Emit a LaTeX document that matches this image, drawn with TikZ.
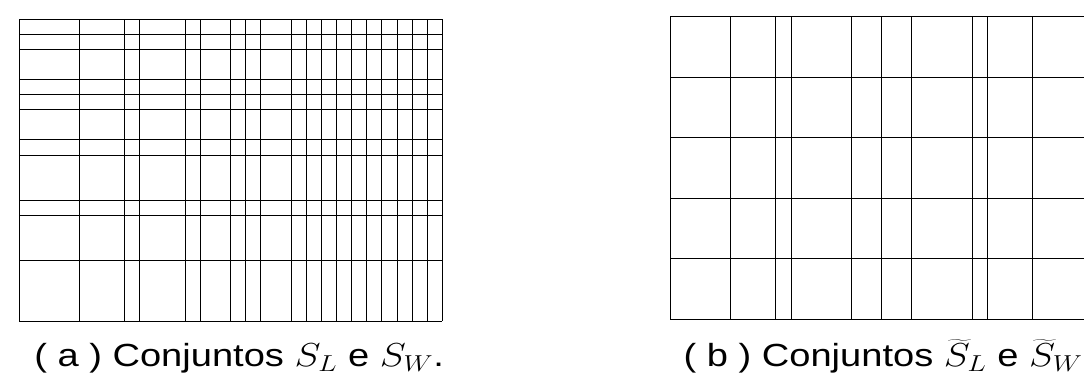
\documentclass[tikz,border=0pt]{standalone}
\usepackage{fontspec}
\setmainfont{Liberation Sans}
\begin{document}
\begin{tikzpicture}[x=0.75pt,y=-0.75pt,
  gridline/.style={line width=0.7pt,black},
  caption/.style={anchor=base west,inner sep=0pt,xscale=1.19,transform shape,font=\fontsize{24}{28}\selectfont}]
\useasboundingbox (0,0) rectangle (1084,386);
% left grid: unit u = 15.12 px, origin (19,19)
\begin{scope}[shift={(19,19)}]
  \foreach \v in {0,4,7,8,11,12,14,15,16,18,19,20,21,22,23,24,25,26,27,28}
    \draw[gridline] (\v*15.12,0) -- (\v*15.12,302.4);
  \foreach \h in {0,1,2,4,5,6,8,9,12,13,16,20}
    \draw[gridline] (0,\h*15.12) -- (423.4,\h*15.12);
\end{scope}
% right grid: origin (670,16.7), clipped at the image edge
\begin{scope}
  \clip (0,0) rectangle (1084,386);
  \begin{scope}[shift={(670,16.7)}]
    \foreach \v in {0,4,7,8,12,14,16,20,21,24,28}
      \draw[gridline] (\v*15.12,0) -- (\v*15.12,302.4);
    \foreach \h in {0,4,8,12,16,20}
      \draw[gridline] (0,\h*15.12) -- (423.4,\h*15.12);
  \end{scope}
\end{scope}
\node[caption] (capa) at (34,366.7) {( a ) Conjuntos $S_L$ e $S_W$.};
\node[caption] (capb) at (683.3,366.7) {( b ) Conjuntos $\widetilde{S}_L$ e $\widetilde{S}_W$};
\end{tikzpicture}
\end{document}
